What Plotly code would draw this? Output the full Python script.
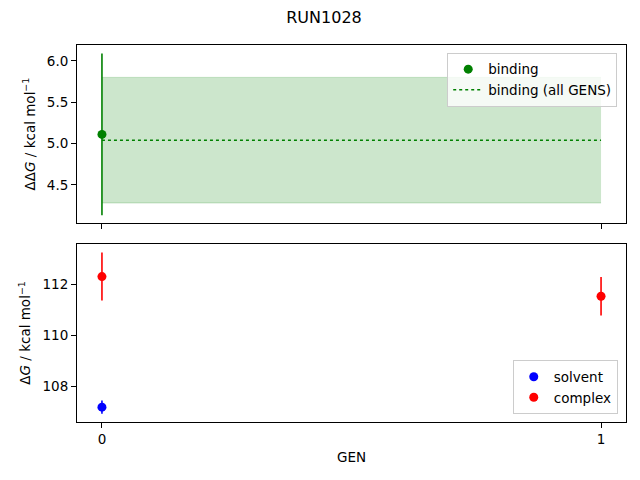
import plotly.graph_objects as go
from plotly.subplots import make_subplots

# data
gens = [0, 1]
binding_gen = [0]
binding = [5.11]
binding_err = [0.98]
binding_all = 5.04
binding_all_err = 0.76
solvent_gen = [0]
solvent = [107.19]
solvent_err = [0.26]
complex_gen = [0, 1]
complex_vals = [112.30, 111.53]
complex_err = [0.94, 0.75]

fig = make_subplots(rows=2, cols=1, shared_xaxes=True, vertical_spacing=0.055)

# shaded band for all GENS
fig.add_trace(go.Scatter(x=gens, y=[binding_all + binding_all_err] * len(gens),
                         mode='lines', line=dict(width=1, color='rgba(0,128,0,0.2)'),
                         showlegend=False, hoverinfo='skip'), row=1, col=1)
fig.add_trace(go.Scatter(x=gens, y=[binding_all - binding_all_err] * len(gens),
                         mode='lines', line=dict(width=1, color='rgba(0,128,0,0.2)'),
                         fill='tonexty', fillcolor='rgba(0,128,0,0.2)',
                         showlegend=False, hoverinfo='skip'), row=1, col=1)
fig.add_trace(go.Scatter(x=binding_gen, y=binding, mode='markers', name='binding',
                         marker=dict(color='green', size=9),
                         error_y=dict(type='data', array=binding_err, color='green',
                                      thickness=1.6, width=0),
                         legend='legend'), row=1, col=1)
fig.add_trace(go.Scatter(x=gens, y=[binding_all] * len(gens), mode='lines',
                         name='binding (all GENS)',
                         line=dict(color='green', dash='dot', width=1.6),
                         legend='legend'), row=1, col=1)

fig.add_trace(go.Scatter(x=solvent_gen, y=solvent, mode='markers', name='solvent',
                         marker=dict(color='blue', size=9),
                         error_y=dict(type='data', array=solvent_err, color='blue',
                                      thickness=1.6, width=0),
                         legend='legend2'), row=2, col=1)
fig.add_trace(go.Scatter(x=complex_gen, y=complex_vals, mode='markers', name='complex',
                         marker=dict(color='red', size=9),
                         error_y=dict(type='data', array=complex_err, color='red',
                                      thickness=1.6, width=0),
                         legend='legend2'), row=2, col=1)

axis_style = dict(showline=True, linecolor='black', linewidth=1, mirror=True,
                  ticks='outside', ticklen=5, tickcolor='black', showgrid=False,
                  zeroline=False, tickfont=dict(size=13.5, color='black'))

fig.update_xaxes(**axis_style, range=[-0.05, 1.05], tickvals=[0, 1])
fig.update_xaxes(showticklabels=False, row=1, col=1)
fig.update_xaxes(title=dict(text='GEN', font=dict(size=13.5), standoff=6), row=2, col=1)
fig.update_yaxes(**axis_style)
fig.update_yaxes(range=[4.036, 6.192], tickvals=[4.5, 5.0, 5.5, 6.0],
                 ticktext=['4.5', '5.0', '5.5', '6.0'],
                 title=dict(text='ΔΔ<i>G</i> / kcal mol<sup>−1</sup>',
                            font=dict(size=13.5), standoff=8), row=1, col=1)
fig.update_yaxes(range=[106.61, 113.58], tickvals=[108, 110, 112],
                 title=dict(text='Δ<i>G</i> / kcal mol<sup>−1</sup>',
                            font=dict(size=13.5), standoff=8), row=2, col=1)

# the page adds an 8px body margin, so the figure is shrunk by that amount
fig.update_layout(
    width=632, height=472,
    margin=dict(l=69, r=14, t=37, b=58, autoexpand=False),
    paper_bgcolor='white', plot_bgcolor='white',
    font=dict(family='DejaVu Sans', color='black', size=13.5),
    title=dict(text='RUN1028', x=0.5, xanchor='center', y=1 - 9 / 472, yanchor='middle',
               font=dict(size=16)),
    legend=dict(x=0.984, y=0.979, xanchor='right', yanchor='top', traceorder='normal',
                bgcolor='rgba(255,255,255,0.8)', bordercolor='#cccccc', borderwidth=1,
                font=dict(size=13.5), tracegroupgap=0, itemwidth=30),
    legend2=dict(x=0.985, y=0.02, xanchor='right', yanchor='bottom', traceorder='normal',
                 bgcolor='rgba(255,255,255,0.8)', bordercolor='#cccccc', borderwidth=1,
                 font=dict(size=13.5), tracegroupgap=0, itemwidth=30),
)

fig.write_html("out.html")
